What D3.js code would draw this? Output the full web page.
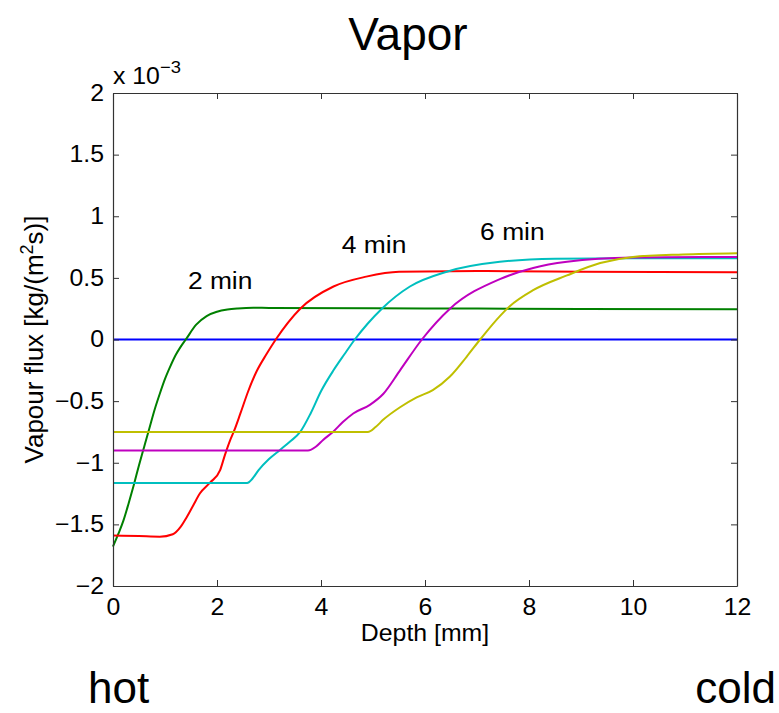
<!DOCTYPE html>
<html>
<head>
<meta charset="utf-8">
<script src="https://cdn.jsdelivr.net/npm/d3@7"></script>
<style>
  body { margin: 0; background: white; }
  text { font-family: "Liberation Sans", Arial, sans-serif; fill: black; }
</style>
</head>
<body>
<script>
// depth [mm] and vapour flux [1e-3 kg/(m2 s)]
const greenX = [0, 0.1, 0.2, 0.3, 0.4, 0.5, 0.6, 0.7, 0.8, 0.9, 1.0, 1.1, 1.2, 1.3, 1.4, 1.6, 1.8, 2.0, 2.2, 2.4, 2.7, 3, 6, 9, 12]
const greenY = [-1.68, -1.58, -1.47, -1.33, -1.18, -1.02, -0.87, -0.72, -0.57, -0.44, -0.32, -0.22, -0.13, -0.06, 0.0, 0.12, 0.19, 0.225, 0.243, 0.252, 0.258, 0.256, 0.252, 0.248, 0.245]

const redX = [0, 0.5, 0.9, 1.15, 1.3, 1.42, 1.55, 1.67, 1.87, 2.06, 2.15, 2.25, 2.33, 2.45, 2.6, 2.76, 2.95, 3.13, 3.6, 4.24, 4.87, 5.5, 7, 9, 12]
const redY = [-1.59, -1.595, -1.6, -1.58, -1.52, -1.44, -1.34, -1.25, -1.16, -1.06, -0.94, -0.82, -0.74, -0.6, -0.42, -0.26, -0.12, 0, 0.25, 0.43, 0.51, 0.55, 0.555, 0.55, 0.545]

const cyanX = [0, 2.58, 2.68, 2.8, 3.0, 3.2, 3.4, 3.6, 3.8, 4.0, 4.24, 4.45, 4.65, 4.9, 5.17, 5.71, 6.42, 7.44, 8.5, 10, 12]
const cyanY = [-1.165, -1.165, -1.13, -1.06, -0.97, -0.9, -0.83, -0.75, -0.6, -0.42, -0.25, -0.12, 0, 0.13, 0.25, 0.43, 0.55, 0.63, 0.655, 0.66, 0.66]

const magentaX = [0, 3.75, 3.9, 4.04, 4.23, 4.42, 4.62, 4.94, 5.2, 5.52, 5.94, 6.48, 7.44, 8.08, 8.73, 10, 12]
const magentaY = [-0.9, -0.9, -0.87, -0.815, -0.75, -0.67, -0.6, -0.53, -0.44, -0.25, 0, 0.25, 0.49, 0.58, 0.63, 0.665, 0.67]

const yellowX = [0, 4.9, 5.05, 5.2, 5.52, 5.84, 6.15, 6.48, 6.8, 7.06, 7.44, 7.63, 8.08, 8.73, 9.37, 10, 10.96, 12]
const yellowY = [-0.75, -0.75, -0.71, -0.65, -0.55, -0.47, -0.41, -0.3, -0.14, 0, 0.19, 0.27, 0.40, 0.52, 0.62, 0.67, 0.69, 0.70]

const zeroX = [0, 12]
const zeroY = [0, 0]

const xTicks = [0, 2, 4, 6, 8, 10, 12]
const yTicks = [-2, -1.5, -1, -0.5, 0, 0.5, 1, 1.5, 2]

const labelText = ['2 min', '4 min', '6 min']
const labelX = [1.44, 4.40, 7.06]
const labelY = [0.41, 0.70, 0.81]

function main(){
    var width = 779;
    var height = 713;
    const stretch = 1.08;   // the matlab part of the figure is wider than tall
    const fs = 23;

    let svg = d3.select("body")
        .append('svg')
        .attr('width', width)
        .attr('height', height)
        .attr('style', "background-color: white")

    let xScale = d3.scaleLinear()
        .domain([0, 12])
        .range([113, 737]);
    let yScale = d3.scaleLinear()
        .domain([-2, 2])
        .range([586, 93]);

    const line = d3.line()
        .x(d => xScale(d[0]))
        .y(d => yScale(d[1]))
        .curve(d3.curveMonotoneX)

    const series = [
        [zeroX, zeroY, '#0000ff'],
        [greenX, greenY, '#008000'],
        [redX, redY, '#ff0000'],
        [cyanX, cyanY, '#00bfbf'],
        [magentaX, magentaY, '#bf00bf'],
        [yellowX, yellowY, '#bfbf00']
    ]
    svg.selectAll('path.curve')
        .data(series)
        .enter()
        .append('path')
        .attr('class', 'curve')
        .attr('d', s => line(s[0].map((x, i) => [x, s[1][i]])))
        .attr('fill', 'none')
        .attr('stroke', s => s[2])
        .attr('stroke-width', 2)

    // axes, matlab style with inward ticks on all sides
    let xAxis = svg.append('g')
        .attr('transform', `translate(0,${yScale(-2)})`)
        .call(d3.axisBottom(xScale).tickValues(xTicks).tickSizeInner(-6).tickSizeOuter(0).tickPadding(13))
    let xTop = svg.append('g')
        .attr('transform', `translate(0,${yScale(2)})`)
        .call(d3.axisTop(xScale).tickValues(xTicks).tickSizeInner(-6).tickSizeOuter(0).tickFormat(''))
    let yAxis = svg.append('g')
        .attr('transform', `translate(${xScale(0)},0)`)
        .call(d3.axisLeft(yScale).tickValues(yTicks).tickSizeInner(-6).tickSizeOuter(0).tickPadding(9)
            .tickFormat(d => d < 0 ? '\u2212' + Math.abs(d) : d))
    let yRight = svg.append('g')
        .attr('transform', `translate(${xScale(12)},0)`)
        .call(d3.axisRight(yScale).tickValues(yTicks).tickSizeInner(-6).tickSizeOuter(0).tickFormat(''))

    svg.selectAll('.domain').attr('stroke', '#333').attr('stroke-width', 1.2)
    svg.selectAll('.tick line').attr('stroke', '#333')
    svg.selectAll('.tick text')
        .attr('font-size', fs + 'px')
        .attr('font-family', '"Liberation Sans", Arial, sans-serif')
        .attr('fill', 'black')
    xAxis.selectAll('.tick text').attr('transform', `scale(${stretch},1)`)
    yAxis.selectAll('.tick text')
        .attr('x', -9 / stretch)
        .attr('transform', `scale(${stretch},1)`)

    function stretched(x, y, txt, size, anchor){
        return svg.append('text')
            .attr('transform', `translate(${x},${y}) scale(${stretch},1)`)
            .attr('font-size', size + 'px')
            .attr('text-anchor', anchor)
            .text(txt)
    }

    stretched(425, 641, 'Depth [mm]', fs, 'middle')

    let yl = svg.append('text')
        .attr('transform', `translate(43,${yScale(0)}) rotate(-90)`)
        .attr('font-size', '26px')
        .attr('text-anchor', 'middle')
    yl.append('tspan').text('Vapour flux [kg/(m')
    yl.append('tspan').attr('font-size', '18px').attr('dy', -10).text('2')
    yl.append('tspan').attr('dy', 10).text('s)]')

    let ex = stretched(113, 84, 'x 10', fs, 'start')
    ex.append('tspan').attr('font-size', '17px').attr('dy', -11).text('\u22123')

    labelText.forEach((t, i) => {
        svg.append('text')
            .attr('transform', `translate(${xScale(labelX[i])},${yScale(labelY[i])}) scale(1.1,1)`)
            .attr('font-size', '24px')
            .text(t)
    })

    svg.append('text')
        .attr('x', 408)
        .attr('y', 50)
        .attr('font-size', '46px')
        .attr('text-anchor', 'middle')
        .text('Vapor')
    svg.append('text')
        .attr('x', 88)
        .attr('y', 703)
        .attr('font-size', '44px')
        .text('hot')
    svg.append('text')
        .attr('x', 776)
        .attr('y', 703)
        .attr('font-size', '44px')
        .attr('text-anchor', 'end')
        .text('cold')
}

main()
</script>
</body>
</html>
